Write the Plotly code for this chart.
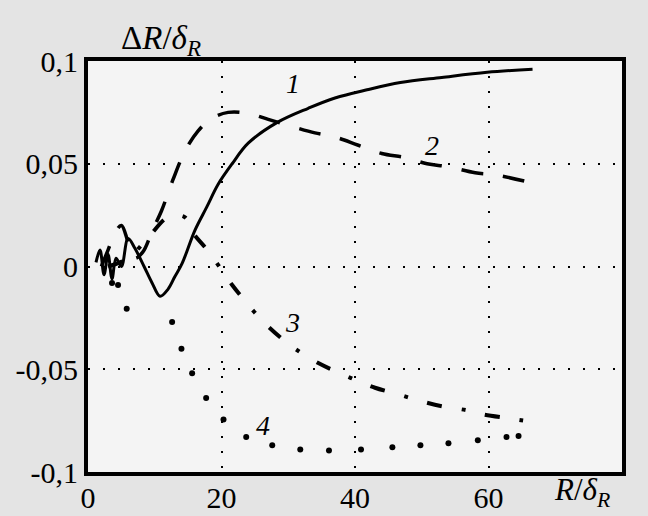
import plotly.graph_objects as go

# Curve 1 (solid)
R1 = [1.2, 1.8, 2.4, 3.0, 3.6, 4.2, 5.0, 6.0, 7.0, 8.4, 9.6, 10.8, 12.0, 13.0, 14.1, 16.0, 17.8, 19.5,
      21.6, 24.0, 28.3, 33.0, 37.0, 41.8, 46.8, 53.0, 59.8, 66.6]
V1 = [0.002, 0.008, -0.004, 0.006, -0.006, 0.004, 0.0, 0.0136, 0.009, 0.0, -0.008, -0.0145, -0.011, -0.005,
      0.0015, 0.0175, 0.029, 0.040, 0.050, 0.060, 0.070, 0.077, 0.082, 0.086, 0.0895, 0.092, 0.0945, 0.096]

# Curve 2 (dashed)
R2 = [2.0, 3.0, 4.0, 5.0, 6.0, 7.0, 8.2, 9.7, 11.0, 12.7, 14.5, 16.5, 18.5, 21.0, 24.0, 27.0, 30.7, 34.0,
      37.0, 40.5, 44.0, 47.5, 50.8, 54.0, 58.0, 61.0, 66.5]
V2 = [0.0, 0.008, 0.016, 0.020, 0.012, 0.004, 0.007, 0.018, 0.027, 0.042, 0.056, 0.066, 0.072, 0.075, 0.0745,
      0.0716, 0.068, 0.065, 0.063, 0.059, 0.055, 0.053, 0.050, 0.0485, 0.0456, 0.0446, 0.0407]

# Curve 3 (dash-dot)
R3 = [3.0, 6.0, 9.0, 12.0, 14.5, 15.7, 18.0, 21.6, 23.2, 26.0, 29.0, 31.0, 34.5, 37.8, 40.3, 43.0, 46.8,
      49.3, 53.0, 56.8, 59.2, 63.3, 66.3]
V3 = [0.0, 0.004, 0.014, 0.024, 0.024, 0.0165, 0.0075, -0.009, -0.0155, -0.026, -0.035, -0.040, -0.047,
      -0.052, -0.0555, -0.059, -0.0625, -0.065, -0.068, -0.070, -0.072, -0.074, -0.0755]

# Curve 4 (sparse dots)
R4 = [3.6, 4.5, 5.8, 12.6, 14.0, 15.6, 17.7, 20.3, 23.7, 27.6, 31.8, 36.1, 40.9, 45.6, 49.8, 54.0, 58.4,
      62.7, 64.5]
V4 = [-0.008, -0.009, -0.0205, -0.027, -0.040, -0.052, -0.064, -0.0745, -0.083, -0.087, -0.089, -0.0895,
      -0.089, -0.088, -0.087, -0.086, -0.0845, -0.083, -0.0825]

x_ticks = [0, 20, 40, 60]
x_tick_text = ["0", "20", "40", "60"]
y_ticks = [-0.1, -0.05, 0, 0.05, 0.1]
y_tick_text = ["-0,1", "-0,05", "0", "0,05", "0,1"]

curve_labels = ["1", "2", "3", "4"]
label_R = [30.7, 51.6, 30.6, 26.2]
label_V = [0.089, 0.059, -0.0273, -0.0775]

FONT = "Liberation Serif"

fig = go.Figure()
fig.add_trace(go.Scatter(x=R1, y=V1, mode="lines", line=dict(color="black", width=3, shape="spline"),
                         showlegend=False))
fig.add_trace(go.Scatter(x=R2, y=V2, mode="lines",
                         line=dict(color="black", width=3.5, dash="22px,20px", shape="spline"),
                         showlegend=False))
fig.add_trace(go.Scatter(x=R3, y=V3, mode="lines",
                         line=dict(color="black", width=4, dash="15px,20px,4px,20px", shape="spline"),
                         showlegend=False))
fig.add_trace(go.Scatter(x=R4, y=V4, mode="markers", marker=dict(color="black", size=6),
                         showlegend=False))

for t, rx, vy in zip(curve_labels, label_R, label_V):
    fig.add_annotation(x=rx, y=vy, text="<i>" + t + "</i>", showarrow=False,
                       font=dict(family=FONT, size=28, color="black"))

fig.add_annotation(xref="paper", yref="paper", x=0.137, y=1.05,
                   text="\u0394<i>R</i>/<i>\u03b4</i><sub><i>R</i></sub>", showarrow=False,
                   xanchor="center", yanchor="middle", font=dict(family=FONT, size=33, color="black"))
fig.add_annotation(xref="paper", yref="paper", x=0.925, y=-0.048,
                   text="<i>R</i>/<i>\u03b4</i><sub><i>R</i></sub>", showarrow=False,
                   xanchor="center", yanchor="middle", font=dict(family=FONT, size=31, color="black"))

axis_common = dict(showline=True, linecolor="black", linewidth=4, mirror=True, automargin=False,
                   showgrid=True, gridcolor="black", gridwidth=2, griddash="2px,13px",
                   zeroline=False, ticks="", tickfont=dict(family=FONT, size=30, color="black"))

fig.update_xaxes(range=[0, 80], tickvals=x_ticks, ticktext=x_tick_text, ticklabelstandoff=-4,
                 **axis_common)
fig.update_yaxes(range=[-0.1, 0.1], tickvals=y_ticks, ticktext=y_tick_text, ticklabelstandoff=0,
                 **axis_common)

fig.update_layout(width=648, height=516, margin=dict(l=88, r=26, t=61, b=44),
                  paper_bgcolor="#e4e4e4", plot_bgcolor="#f4f4f4",
                  font=dict(family=FONT, color="black"))

fig.write_html("out.html", post_script="document.body.style.margin='0px';",
               config={"displayModeBar": False})
